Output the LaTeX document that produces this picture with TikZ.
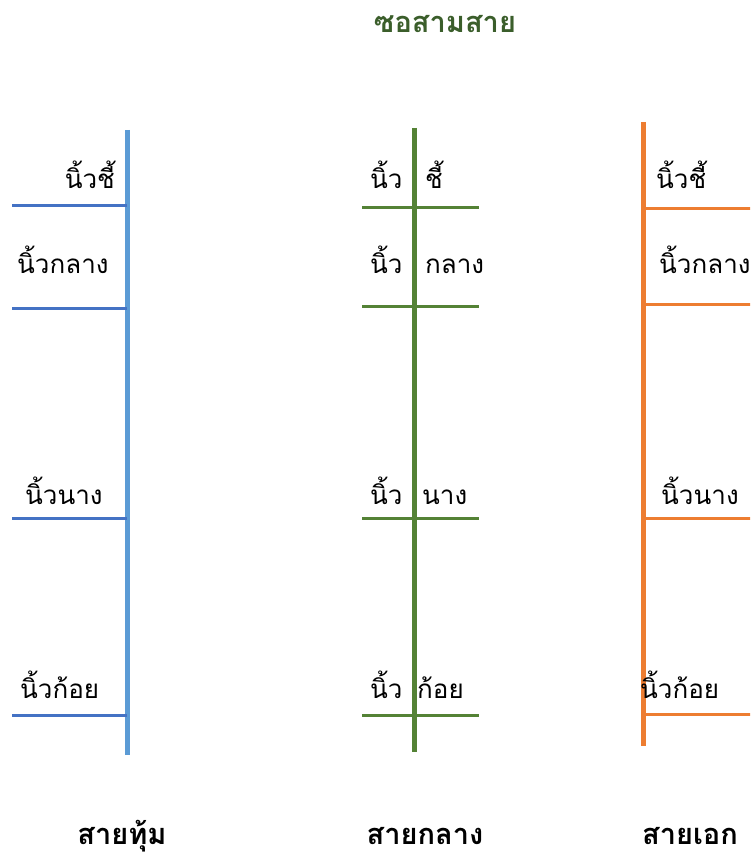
\documentclass[tikz,border=0pt]{standalone}
\usepackage{fontspec}
\newfontfamily\thai[Script=Thai]{Loma}
\definecolor{bassV}{HTML}{5B9BD5}
\definecolor{bassH}{HTML}{4472C4}
\definecolor{midC}{HTML}{548235}
\definecolor{hiC}{HTML}{ED7D31}
\definecolor{titleC}{HTML}{3B5E2B}
\tikzset{
  vline/.style={line width=5pt},
  hline/.style={line width=3pt},
  lab/.style={font=\thai\fontsize{26}{30}\selectfont, inner sep=0pt, text=black},
  foot/.style={font=\thai\bfseries\fontsize{29}{34}\selectfont, inner sep=0pt, text=black, anchor=base},
}
\begin{document}
\begin{tikzpicture}[x=1pt,y=-1pt]
\useasboundingbox (0,0) rectangle (750,856);
\clip (0,0) rectangle (750,856);
% title
\node[font=\thai\bfseries\fontsize{29}{34}\selectfont, text=titleC, inner sep=0pt, anchor=base] (title) at (445,33) {ซอสามสาย};
% --- left column (สายทุ้ม)
\coordinate (Lt) at (127,130); \coordinate (Lb) at (127,755);
\draw[vline, bassV] (Lt) -- (Lb);
\foreach \y/\n in {205/a,308/b,518/c,715/d}{
  \coordinate (L\n1) at (12,\y); \coordinate (L\n2) at (127,\y);
  \draw[hline, bassH] (L\n1) -- (L\n2);
}
\node[lab, anchor=base east] (l1) at (115,188) {นิ้วชี้};
\node[lab, anchor=base west] (l2) at (17,273) {นิ้วกลาง};
\node[lab, anchor=base west] (l3) at (25,504) {นิ้วนาง};
\node[lab, anchor=base west] (l4) at (20,698) {นิ้วก้อย};
\node[foot] (f1) at (122,844) {สายทุ้ม};
% --- middle column (สายกลาง)
\coordinate (Mt) at (414,128); \coordinate (Mb) at (414,752);
\foreach \y/\n in {207/a,306/b,518/c,715/d}{
  \coordinate (M\n1) at (362,\y); \coordinate (M\n2) at (479,\y);
  \draw[hline, midC] (M\n1) -- (M\n2);
}
\draw[vline, midC] (Mt) -- (Mb);
\foreach \y/\n in {188/a,273/b,504/c,698/d}{
  \node[lab, anchor=base west] (m\n) at (370,\y) {นิ้ว};
}
\node[lab, anchor=base west] (m1) at (425,188) {ชี้};
\node[lab, anchor=base west] (m2) at (425,273) {กลาง};
\node[lab, anchor=base west] (m3) at (422,504) {นาง};
\node[lab, anchor=base west] (m4) at (417,698) {ก้อย};
\node[foot] (f2) at (425,844) {สายกลาง};
% --- right column (สายเอก)
\coordinate (Rt) at (643,122); \coordinate (Rb) at (643,746);
\foreach \y/\n in {208/a,304/b,518/c,714/d}{
  \coordinate (R\n1) at (643,\y); \coordinate (R\n2) at (752,\y);
  \draw[hline, hiC] (R\n1) -- (R\n2);
}
\draw[vline, hiC] (Rt) -- (Rb);
\node[lab, anchor=base west] (r1) at (656,188) {นิ้วชี้};
\node[lab, anchor=base west] (r2) at (659,273) {นิ้วกลาง};
\node[lab, anchor=base west] (r3) at (661,504) {นิ้วนาง};
\node[lab, anchor=base west] (r4) at (640,698) {นิ้วก้อย};
\node[foot] (f3) at (690,844) {สายเอก};
\end{tikzpicture}
\end{document}
